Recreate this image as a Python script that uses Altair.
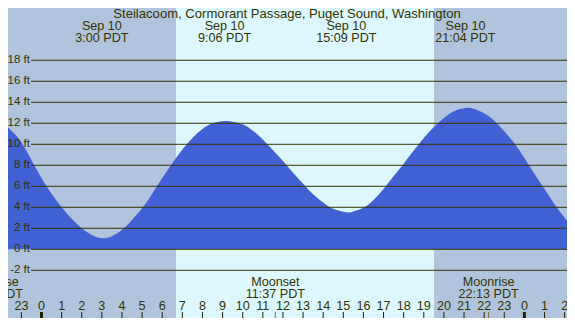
import altair as alt
import pandas as pd

# ---- data ----
hours = [-2.06, -1.5, -1.0, -0.5, 0.0, 0.5, 1.0, 1.5, 2.0, 2.5, 3.0, 3.5, 4.0, 4.5,
         5.0, 5.5, 6.0, 6.5, 7.0, 7.5, 8.0, 8.5, 9.1, 9.5, 10.0, 10.5, 11.0, 11.5,
         12.0, 12.5, 13.0, 13.5, 14.0, 14.5, 15.15, 15.5, 16.0, 16.5, 17.0, 17.5,
         18.0, 18.5, 19.0, 19.5, 20.0, 20.5, 21.07, 21.5, 22.0, 22.5, 23.0, 23.5,
         24.0, 24.5, 25.0, 25.5, 26.0, 26.52]
heights = [12.3, 11.3, 10.2, 8.5, 6.8, 5.3, 4.0, 2.9, 2.0, 1.35, 1.05, 1.25, 1.85, 2.8,
           3.9, 5.3, 6.8, 8.2, 9.5, 10.6, 11.45, 12.0, 12.22, 12.15, 11.9, 11.3, 10.45, 9.45,
           8.4, 7.3, 6.25, 5.25, 4.45, 3.85, 3.52, 3.6, 3.95, 4.7, 5.75, 6.95,
           8.15, 9.4, 10.6, 11.65, 12.5, 13.15, 13.46, 13.35, 12.95, 12.25, 11.25, 10.1,
           8.7, 7.2, 5.75, 4.3, 3.0, 1.8]

title_text = "Steilacoom, Cormorant Passage, Puget Sound, Washington"
extreme_hours = [3.0, 9.1, 15.15, 21.07]
extreme_dates = ["Sep 10", "Sep 10", "Sep 10", "Sep 10"]
extreme_times = ["3:00 PDT", "9:06 PDT", "15:09 PDT", "21:04 PDT"]

moon_hours = [-2.42, 11.62, 22.22]
moon_events = ["Moonrise", "Moonset", "Moonrise"]
moon_times = ["21:35 PDT", "11:37 PDT", "22:13 PDT"]

sunrise_h = 6.685
sunset_h = 19.51

grid_ft = [-2, 0, 2, 4, 6, 8, 10, 12, 14, 16, 18]
tick_hours = list(range(-2, 27))

X0, X1 = -2.063, 26.515
Y0, Y1 = -7.305, 23.74
W, H = 575, 326
PAD = 8

TXT = "#333300"
FONT = "Liberation Sans"
FS = 12.6

xs = alt.Scale(domain=[X0, X1], range=[0, W], nice=False, zero=False)
ys = alt.Scale(domain=[Y0, Y1], range=[H, 0], nice=False, zero=False)

bg = pd.DataFrame({
    "a": [X0, sunrise_h, sunset_h],
    "b": [sunrise_h, sunset_h, X1],
    "c": ["#B0C4DE", "#DDF7FF", "#B0C4DE"],
})
bg_layer = alt.Chart(bg).mark_rect().encode(
    x=alt.X("a:Q", scale=xs, axis=None),
    x2="b:Q",
    y=alt.value(0),
    y2=alt.value(H),
    color=alt.Color("c:N", scale=None),
)

tide = pd.DataFrame({"h": hours, "ft": heights})
area_layer = alt.Chart(tide).mark_area(color="#4161D5", interpolate="natural").encode(
    x=alt.X("h:Q", scale=xs, axis=None),
    y=alt.Y("ft:Q", scale=ys, axis=None),
    y2=alt.value(H),
)

grid = pd.DataFrame({"ft": grid_ft, "lab": [f"{v} ft" for v in grid_ft]})
grid_layer = alt.Chart(grid).mark_rule(color="#333300", strokeWidth=1).encode(
    y=alt.Y("ft:Q", scale=ys, axis=None),
    x=alt.value(31),
    x2=alt.value(W),
)
ylab_layer = alt.Chart(grid).mark_text(
    align="right", baseline="middle", font=FONT, fontSize=11.5, color=TXT
).encode(
    y=alt.Y("ft:Q", scale=ys, axis=None),
    x=alt.value(30),
    text="lab:N",
)

ticks = pd.DataFrame({
    "h": tick_hours,
    "lab": [str(h % 24) for h in tick_hours],
    "w": [3 if h % 24 == 0 else 1 for h in tick_hours],
})
tick_layer = alt.Chart(ticks).mark_rule(color="#222200").encode(
    x=alt.X("h:Q", scale=xs, axis=None),
    y=alt.value(312),
    y2=alt.value(319),
    strokeWidth=alt.StrokeWidth("w:Q", scale=None),
)
ticklab_layer = alt.Chart(ticks).mark_text(
    align="center", baseline="middle", font=FONT, fontSize=FS, color=TXT
).encode(
    x=alt.X("h:Q", scale=xs, axis=None),
    y=alt.value(306),
    text="lab:N",
)

moon = pd.DataFrame({"h": moon_hours, "ev": moon_events, "t": moon_times})
moontick_layer = alt.Chart(moon).mark_rule(color="#8B6B3A", strokeWidth=1).encode(
    x=alt.X("h:Q", scale=xs, axis=None),
    y=alt.value(312),
    y2=alt.value(319),
)
moonev_layer = alt.Chart(moon).mark_text(
    align="center", baseline="middle", font=FONT, fontSize=FS, color=TXT
).encode(
    x=alt.X("h:Q", scale=xs, axis=None),
    y=alt.value(281.5),
    text="ev:N",
)
moont_layer = alt.Chart(moon).mark_text(
    align="center", baseline="middle", font=FONT, fontSize=FS, color=TXT
).encode(
    x=alt.X("h:Q", scale=xs, axis=None),
    y=alt.value(293.5),
    text="t:N",
)

ext = pd.DataFrame({"h": extreme_hours, "d": extreme_dates, "t": extreme_times})
extd_layer = alt.Chart(ext).mark_text(
    align="center", baseline="middle", font=FONT, fontSize=FS, color=TXT
).encode(
    x=alt.X("h:Q", scale=xs, axis=None),
    y=alt.value(25.5),
    text="d:N",
)
extt_layer = alt.Chart(ext).mark_text(
    align="center", baseline="middle", font=FONT, fontSize=FS, color=TXT
).encode(
    x=alt.X("h:Q", scale=xs, axis=None),
    y=alt.value(37.5),
    text="t:N",
)

ttl = pd.DataFrame({"t": [title_text]})
title_layer = alt.Chart(ttl).mark_text(
    align="center", baseline="middle", font=FONT, fontSize=13.1, color=TXT
).encode(
    x=alt.value(287),
    y=alt.value(13.5),
    text="t:N",
)

chart = alt.layer(
    bg_layer, area_layer, grid_layer, ylab_layer, tick_layer, moontick_layer,
    ticklab_layer, moonev_layer, moont_layer, extd_layer, extt_layer, title_layer,
).properties(
    width=W, height=H,
    autosize=alt.AutoSizeParams(type="none"),
    padding={"left": -PAD, "top": -PAD, "right": -PAD, "bottom": -PAD},
).configure_view(strokeWidth=0)

chart.save("out.html", embed_options={"renderer": "svg", "actions": False})
